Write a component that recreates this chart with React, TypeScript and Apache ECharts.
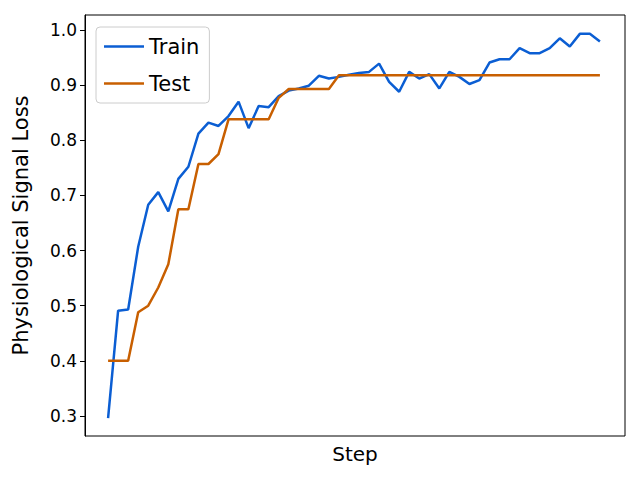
import { useEffect, useRef } from "react"
import * as echarts from "echarts"

const steps = Array.from({ length: 50 }, (_, i) => i)
const train = [
  0.296, 0.491, 0.493, 0.607, 0.683, 0.706, 0.671, 0.730, 0.752, 0.812,
  0.832, 0.826, 0.844, 0.870, 0.822, 0.862, 0.860, 0.880, 0.890, 0.894,
  0.899, 0.917, 0.912, 0.915, 0.919, 0.922, 0.924, 0.939, 0.906, 0.888,
  0.924, 0.912, 0.920, 0.894, 0.924, 0.915, 0.902, 0.909, 0.941, 0.947,
  0.947, 0.967, 0.958, 0.958, 0.967, 0.985, 0.970, 0.993, 0.993, 0.979,
]
const test = [
  0.400, 0.400, 0.400, 0.488, 0.500, 0.533, 0.575, 0.675, 0.675, 0.757,
  0.757, 0.775, 0.838, 0.838, 0.838, 0.838, 0.838, 0.877, 0.893, 0.893,
  0.893, 0.893, 0.893, 0.918, 0.918, 0.918, 0.918, 0.918, 0.918, 0.918,
  0.918, 0.918, 0.918, 0.918, 0.918, 0.918, 0.918, 0.918, 0.918, 0.918,
  0.918, 0.918, 0.918, 0.918, 0.918, 0.918, 0.918, 0.918, 0.918, 0.918,
]
const yTicks = [0.3, 0.4, 0.5, 0.6, 0.7, 0.8, 0.9, 1.0]

export default function App() {
  const ref = useRef<HTMLDivElement>(null)

  useEffect(() => {
    if (!ref.current) return
    const chart = echarts.init(ref.current, null, { renderer: "svg" })
    const font = "DejaVu Sans"
    chart.setOption({
      animation: false,
      textStyle: { fontFamily: font },
      grid: { left: 85, right: 15, top: 15, bottom: 44, show: true, borderColor: "#000", borderWidth: 1 },
      legend: {
        orient: "vertical",
        left: 96,
        top: 27,
        padding: [9, 10, 9, 8],
        itemGap: 16,
        itemWidth: 40,
        itemHeight: 14,
        borderColor: "#ccc",
        borderWidth: 1,
        borderRadius: 4,
        backgroundColor: "rgba(255,255,255,0.8)",
        textStyle: { fontSize: 21, color: "#000", fontFamily: font },
        data: [
          { name: "Train", icon: "path://M0,6h40v2.5H0z" },
          { name: "Test", icon: "path://M0,6h40v2.5H0z" },
        ],
      },
      xAxis: {
        type: "value",
        min: -2.3,
        max: 51.5,
        name: "Step",
        nameLocation: "middle",
        nameGap: 8,
        nameTextStyle: { fontSize: 20, color: "#000", fontFamily: font, verticalAlign: "top" },
        axisLine: { show: false },
        axisTick: { show: false },
        axisLabel: { show: false },
        splitLine: { show: false },
      },
      yAxis: {
        type: "value",
        min: 0.2637,
        max: 1.0272,
        name: "Physiological Signal Loss",
        nameLocation: "middle",
        nameGap: 54,
        nameTextStyle: { fontSize: 21, color: "#000", fontFamily: font },
        axisLine: { show: true, onZero: false, lineStyle: { color: "#000" } },
        axisTick: { show: true, inside: false, length: 5, lineStyle: { color: "#000" }, customValues: yTicks },
        axisLabel: {
          fontSize: 17,
          color: "#000",
          fontFamily: font,
          margin: 8,
          customValues: yTicks,
          formatter: (v: number) => v.toFixed(1),
        },
        splitLine: { show: false },
      },
      series: [
        {
          name: "Train",
          type: "line",
          data: steps.map((s, i) => [s, train[i]]),
          showSymbol: false,
          lineStyle: { color: "#0b5ed3", width: 2.5 },
          itemStyle: { color: "#0b5ed3" },
        },
        {
          name: "Test",
          type: "line",
          data: steps.map((s, i) => [s, test[i]]),
          showSymbol: false,
          lineStyle: { color: "#c85f00", width: 2.5 },
          itemStyle: { color: "#c85f00" },
        },
      ],
    })
    return () => chart.dispose()
  }, [])

  return <div ref={ref} style={{ width: 640, height: 480, position: "absolute", left: 0, top: 0 }} />
}
